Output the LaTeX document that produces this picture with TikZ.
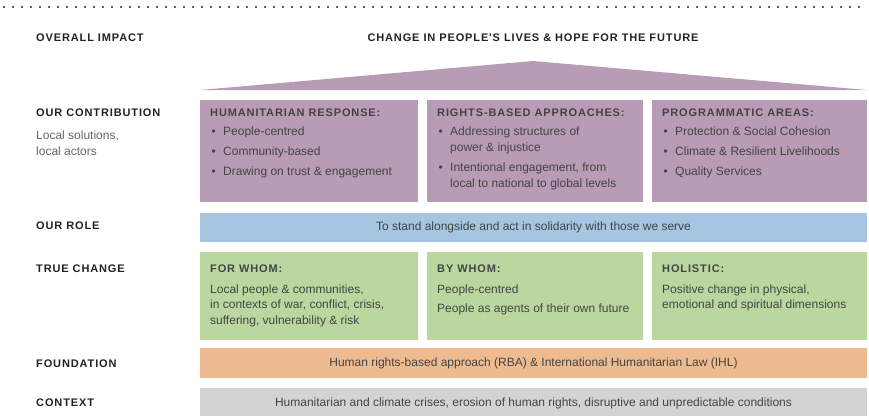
\documentclass[tikz,border=0pt]{standalone}
\usepackage{fontspec}
\setmainfont{Liberation Sans}
\newfontfamily\capsfont[LetterSpace=8]{Liberation Sans}
\usetikzlibrary{positioning}
\definecolor{roofpurple}{HTML}{B89BB4}
\definecolor{rolblue}{HTML}{A5C5E1}
\definecolor{chggreen}{HTML}{BBD7A0}
\definecolor{fndorange}{HTML}{EDBB8F}
\definecolor{ctxgray}{HTML}{D3D3D3}
\definecolor{headgray}{HTML}{222222}
\definecolor{bodygray}{HTML}{444444}
\newcommand\hd{\capsfont\bfseries\fontsize{11}{16}\selectfont}
\newcommand\bd{\fontsize{12}{16}\selectfont}
\newcommand\bul{\makebox[13pt][l]{\hspace{1.5pt}\textbullet}}
\newcommand\ind{\hspace*{13pt}}
\begin{document}
\begin{tikzpicture}[x=1pt,y=-1pt,
    rowlabel/.style = {anchor=west,inner sep=0pt,font=\hd,text=headgray},
    panel/.style = {anchor=north west,inner sep=0pt,outer sep=0pt},
    paneltext/.style = {anchor=north west,inner sep=0pt,align=left,font=\bd,text=bodygray},
    bartext/.style = {inner sep=0pt,font=\bd,text=bodygray}]
\useasboundingbox (0,0) rectangle (869,416);
\draw[line width=2.3pt,line cap=round,dash pattern=on 0pt off 9pt,black!85] (4,7) -- (866,7);

% labels on the left
\node[rowlabel] (impact) at (36,38) {OVERALL IMPACT};
\node[rowlabel] (contrib) at (36,113) {OUR CONTRIBUTION};
\node[anchor=north west,inner sep=0pt,align=left,font=\bd,text=black!60] (local)
    at (36,131) {Local solutions,\\local actors};
\node[rowlabel] (role) at (36,226) {OUR ROLE};
\node[rowlabel] (truechg) at (36,269) {TRUE CHANGE};
\node[rowlabel] (found) at (36,364) {FOUNDATION};
\node[rowlabel] (context) at (36,403) {CONTEXT};

\node[inner sep=0pt,font=\hd,text=headgray] (future) at (533,38)
    {CHANGE IN PEOPLE'S LIVES \& HOPE FOR THE FUTURE};

% roof
\fill[roofpurple] (200,90) -- (533,61) -- (867,90) -- cycle;

% contribution
\node[panel,fill=roofpurple,minimum width=218,minimum height=102] (human) at (200,100) {};
\node[panel,fill=roofpurple,minimum width=216,minimum height=102] (rights) at (427,100) {};
\node[panel,fill=roofpurple,minimum width=215,minimum height=102] (progr) at (652,100) {};
\node[paneltext,below right=9pt and 10pt of human.north west] (humantxt)
    {{\hd HUMANITARIAN RESPONSE:}\\[2.5pt]
     \bul People-centred\\[4pt]
     \bul Community-based\\[4pt]
     \bul Drawing on trust \& engagement};
\node[paneltext,below right=9pt and 10pt of rights.north west] (rightstxt)
    {{\hd RIGHTS-BASED APPROACHES:}\\[2.5pt]
     \bul Addressing structures of\\
     \ind power \& injustice\\[4pt]
     \bul Intentional engagement, from\\
     \ind local to national to global levels};
\node[paneltext,below right=9pt and 10pt of progr.north west] (progrtxt)
    {{\hd PROGRAMMATIC AREAS:}\\[2.5pt]
     \bul Protection \& Social Cohesion\\[4pt]
     \bul Climate \& Resilient Livelihoods\\[4pt]
     \bul Quality Services};

% role
\node[panel,fill=rolblue,minimum width=667,minimum height=29] (rolebar) at (200,213) {};
\node[bartext] (roletxt) at (rolebar.center)
    {To stand alongside and act in solidarity with those we serve};

% true change
\node[panel,fill=chggreen,minimum width=218,minimum height=88] (forwhom) at (200,252) {};
\node[panel,fill=chggreen,minimum width=216,minimum height=88] (bywhom) at (427,252) {};
\node[panel,fill=chggreen,minimum width=215,minimum height=88] (holist) at (652,252) {};
\node[paneltext,below right=13pt and 10pt of forwhom.north west] (forwhomtxt)
    {{\hd FOR WHOM:}\\[4.5pt]
     Local people \& communities,\\[-0.5pt]
     in contexts of war, conflict, crisis,\\[-0.5pt]
     suffering, vulnerability \& risk};
\node[paneltext,below right=13pt and 10pt of bywhom.north west] (bywhomtxt)
    {{\hd BY WHOM:}\\[4.5pt]
     People-centred\\[3pt]
     People as agents of their own future};
\node[paneltext,below right=13pt and 10pt of holist.north west] (holisttxt)
    {{\hd HOLISTIC:}\\[4.5pt]
     Positive change in physical,\\[-0.5pt]
     emotional and spiritual dimensions};

% foundation and context
\node[panel,fill=fndorange,minimum width=667,minimum height=30] (fndbar) at (200,348) {};
\node[bartext] (fndtxt) at (fndbar.center)
    {Human rights-based approach (RBA) \& International Humanitarian Law (IHL)};
\node[panel,fill=ctxgray,minimum width=667,minimum height=28] (ctxbar) at (200,388) {};
\node[bartext] (ctxtxt) at ([yshift=-1pt]ctxbar.center)
    {Humanitarian and climate crises, erosion of human rights, disruptive and unpredictable conditions};
\end{tikzpicture}
\end{document}
